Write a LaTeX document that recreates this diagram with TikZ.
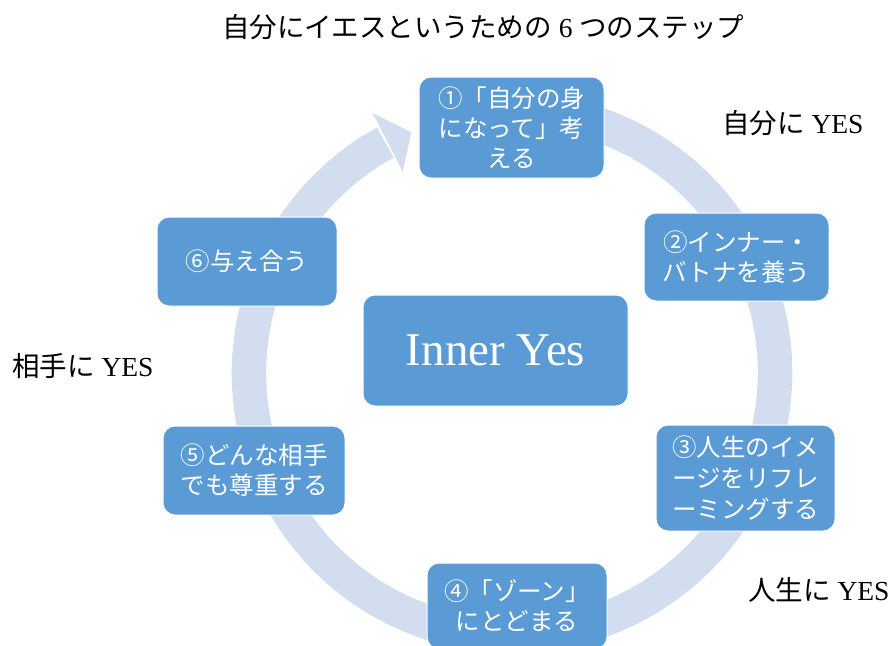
\documentclass[tikz,border=0pt]{standalone}
\usepackage{fontspec}
\setmainfont{Liberation Serif}
\newfontfamily\jp{Noto Sans CJK JP}
\usetikzlibrary{calc}
\definecolor{boxblue}{HTML}{5B9BD5}
\definecolor{ringblue}{HTML}{D2DEEF}
\tikzset{
  stepbox/.style={draw=white, line width=1pt, fill=boxblue, rounded corners=12pt,
    text=white, align=center, inner sep=0pt,
    font=\jp\fontsize{24.5}{30}\selectfont},
  sidelabel/.style={anchor=west, inner sep=0pt, font=\fontsize{27.5}{30}\selectfont},
}
\begin{document}
\begin{tikzpicture}[x=1pt,y=-1pt]
\useasboundingbox (0,0) rectangle (896,645);
% ring with arrow
\coordinate (c) at (512,373);
\draw[ringblue, line width=34.5pt] (c) ++(80:263pt) arc[start angle=80, end angle=-241.2, radius=263pt];
\fill[ringblue] ($(c)+(118.5:229pt)$) coordinate (hb1) -- ($(c)+(118.2:295pt)$) coordinate (hb2) -- ($(c)+(112.7:261pt)$) coordinate (tip) -- cycle;
% boxes
\node[stepbox, minimum width=185pt, minimum height=101pt] (s1) at (511.5,127.5)
  {①「自分の身\\になって」考\\える};
\node[stepbox, minimum width=185pt, minimum height=88pt] (s2) at (736.5,257)
  {②インナー・\\バトナを養う};
\node[stepbox, minimum width=179pt, minimum height=106pt, font=\jp\fontsize{24.5}{31}\selectfont] (s3) at (745.5,478)
  {③人生のイメ\\ージをリフレ\\ーミングする};
\node[stepbox, minimum width=180pt, minimum height=86pt] (s4) at (517,606)
  {④「ゾーン」\\にとどまる};
\node[stepbox, minimum width=182pt, minimum height=89pt] (s5) at (254,470.5)
  {⑤どんな相手\\でも尊重する};
\node[stepbox, minimum width=180pt, minimum height=89pt] (s6) at (247,261.5)
  {⑥与え合う};
\node[stepbox, minimum width=265pt, minimum height=111pt, font=\fontsize{47}{52}\selectfont] (core) at (495.5,350.5)
  {Inner Yes};
% labels
\node[sidelabel] (title) at (222,27) {{\jp 自分にイエスというための} 6 {\jp つのステップ}};
\node[sidelabel] (l1) at (722,123) {{\jp 自分に} YES};
\node[sidelabel] (l2) at (12,366) {{\jp 相手に} YES};
\node[sidelabel] (l3) at (748,590) {{\jp 人生に} YES};
\end{tikzpicture}
\end{document}
